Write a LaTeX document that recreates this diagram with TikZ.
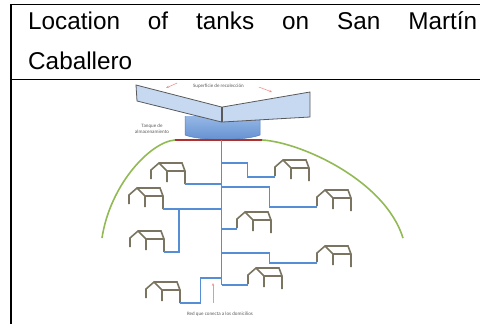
\documentclass[tikz,border=0pt]{standalone}
\usepackage{fontspec}
\setmainfont{Liberation Sans}
\newfontfamily\labelfont{Carlito}
\usetikzlibrary{arrows.meta}

% house outline, y pointing up inside the pic
\tikzset{
  house/.pic={
    \draw[houseline] (0,-9) -- (0,0) -- (8,7) -- (16,-1) -- (16,-12) ;
    \draw[houseline] (8,7) -- (31,7) -- (34,-1) -- (34,-14) ;
    \draw[houseline] (16,-1) -- (34,-1) ;
    \coordinate (-sw) at (0,-10) ;
    \coordinate (-se) at (34,-14) ;
  }
}

\begin{document}
\begin{tikzpicture}[x=1pt,y=1pt,yscale=-1,xscale=1,
  frameline/.style={color=black, line width=1.5},
  pipe/.style={color={rgb, 255:red, 85; green, 142; blue, 213 }, line width=1.2},
  houseline/.style={color={rgb, 255:red, 122; green, 116; blue, 96 }, line width=1.6},
  hill/.style={color={rgb, 255:red, 146; green, 186; blue, 84 }, line width=1.6},
  wing/.style={draw={rgb, 255:red, 89; green, 89; blue, 89 }, line width=0.8, fill={rgb, 255:red, 198; green, 217; blue, 241 }},
  note/.style={color={rgb, 255:red, 236; green, 150; blue, 150 }, line width=0.6, -{Stealth[length=3pt,width=2.4pt]}},
  smalltext/.style={font=\labelfont\fontsize{5}{5.8}\selectfont, text={rgb, 255:red, 89; green, 89; blue, 89 }, inner sep=0.75pt}
]
\useasboundingbox (0,0) rectangle (480,324) ;

%Table lines
\draw[frameline] (10,4.7) -- (480,4.7) ;
\draw[frameline] (10,79.3) -- (480,79.3) ;
\draw[frameline] (11,4) -- (11,324) ;

% Text Node
\node[anchor=base west, inner sep=0, font=\fontsize{24.3}{29}\selectfont] (title1) at (28,30)
  {\hbox to 449pt{Location\hfill of\hfill tanks\hfill on\hfill San\hfill Martín}} ;
% Text Node
\node[anchor=base west, inner sep=0, font=\fontsize{24.3}{29}\selectfont] (title2) at (28,69) {Caballero} ;

%Shape: Tank
\shade[top color={rgb, 255:red, 150; green, 184; blue, 230 }, bottom color={rgb, 255:red, 98; green, 143; blue, 208 }]
  (185,116) -- (260,116) -- (260,135) .. controls (245,141) and (200,141) .. (185,135) -- cycle ;
\draw[color={rgb, 255:red, 84; green, 128; blue, 192 }, line width=0.5]
  (185,116) -- (185,135) .. controls (200,141) and (245,141) .. (260,135) -- (260,116) ;
\coordinate (tank) at (221.7,140) ;

%Shape: Collecting surfaces
\draw[wing] (136,85) -- (221.5,107) -- (221.5,122) -- (137,101) -- cycle ;
\draw[wing] (222.5,107) -- (310,92) -- (310,117) -- (222.5,122) -- cycle ;

%Straight Lines: base of the tank
\draw[color={rgb, 255:red, 176; green, 48; blue, 48 }, line width=1.8] (175,140) -- (262,140) ;

%Curve Lines: hills
\draw[hill] (175,140) .. controls (150,142) and (110,185) .. (102,238) ;
\draw[hill] (262,140) .. controls (300,142) and (385,180) .. (403,238) ;

%Houses
\pic (L1) at (151,170) {house} ;
\pic (R1) at (275,167) {house} ;
\pic (L2) at (129,195) {house} ;
\pic (R2) at (317,197) {house} ;
\pic (L3) at (130,238) {house} ;
\pic (M1) at (237,219) {house} ;
\pic (R3) at (317,253) {house} ;
\pic (M2) at (248,275) {house} ;
\pic (L4) at (146,289) {house} ;

%Pipes
\coordinate (trunkend) at (221.7,285) ;
\draw[pipe] (tank) -- (trunkend) ;
\draw[pipe] (221.7,163) -- ++(26,0) |- (R1-sw) ;
\draw[pipe] (221.7,184) -- (L1-se) ;
\draw[pipe] (221.7,187) -- ++(48,0) |- (R2-sw) ;
\draw[pipe] (221.7,209) -- (L2-se) ;
\draw[pipe] (179,209) |- (L3-se) ;
\draw[pipe] (221.7,229) -- (M1-sw) ;
\draw[pipe] (221.7,253) -- ++(48,0) |- (R3-sw) ;
\draw[pipe] (221.7,278) -- ++(-21,0) |- (L4-se) ;
\draw[pipe] (trunkend) -- (M2-sw) ;

% Text Node
\node[smalltext] (surface) at (218.5,86) {Superficie de recolección} ;
% Text Node
\node[smalltext, align=center] (tanklabel) at (152,128.5) {Tanque de\\almacenamiento} ;
% Text Node
\node[smalltext] (network) at (220,314) {Red que conecta a los domicilios} ;

%Arrows
\coordinate (arrowL) at (166,88) ;
\coordinate (arrowR) at (272,92) ;
\coordinate (arrowB) at (213,283) ;
\draw[note] (surface.west) ++(-15,-3) -- (arrowL) ;
\draw[note] (surface.east) ++(14,1) -- (arrowR) ;
\draw[note] (network.north -| arrowB) ++(0,-8) -- (arrowB) ;
\end{tikzpicture}
\end{document}
